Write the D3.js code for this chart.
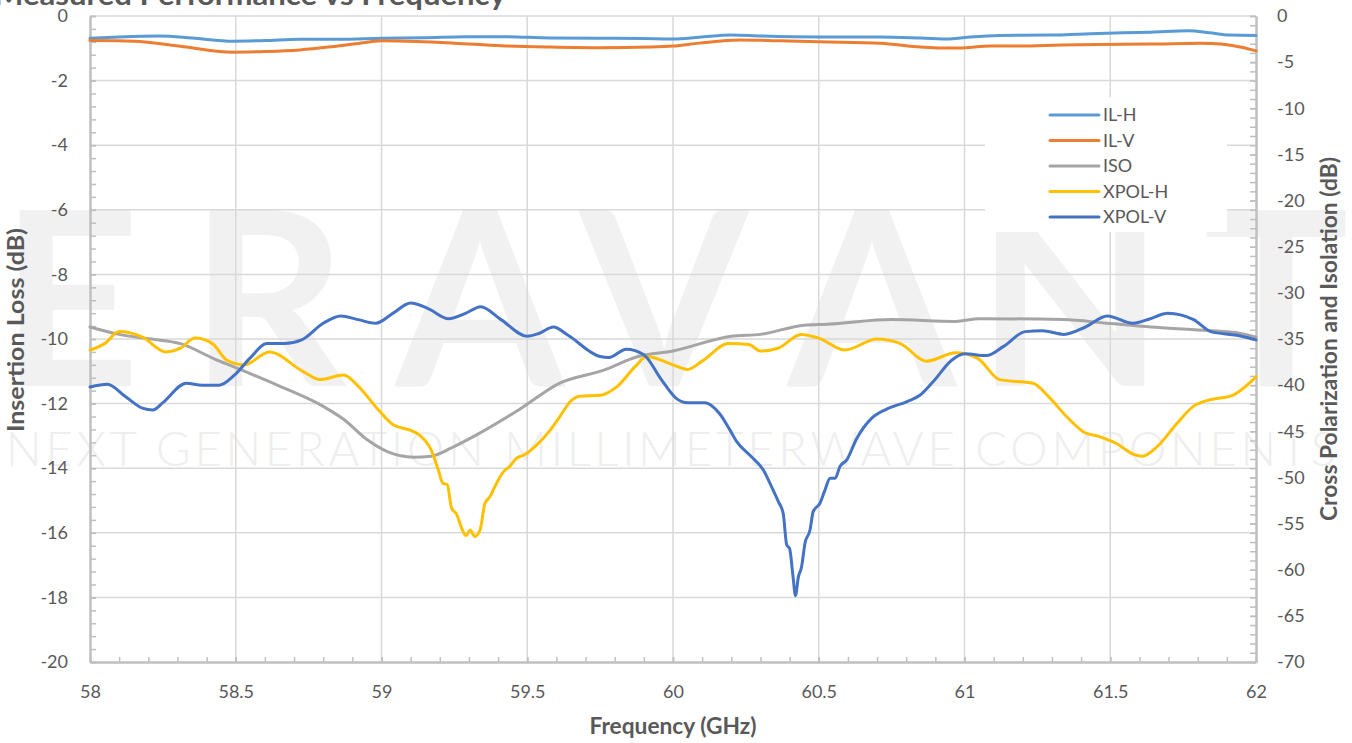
<!DOCTYPE html>
<html>
<head>
<meta charset="utf-8">
<script src="https://cdn.jsdelivr.net/npm/d3@7"></script>
<style>
  html, body { margin: 0; padding: 0; background: #fff; }
  svg { display: block; }
  text { font-family: Lato, "Noto Sans", sans-serif; }
</style>
</head>
<body>
<svg id="chart" width="1352" height="743"></svg>
<script>
// ---------- DATA ----------
const seriesNames = ["IL-H", "IL-V", "ISO", "XPOL-H", "XPOL-V"];
const xTickLabels = [58, 58.5, 59, 59.5, 60, 60.5, 61, 61.5, 62];
const leftTickLabels = [0, -2, -4, -6, -8, -10, -12, -14, -16, -18, -20];
const rightTickLabels = [0, -5, -10, -15, -20, -25, -30, -35, -40, -45, -50, -55, -60, -65, -70];

// IL-H (left axis, dB)
const ilhFreq = [58.00,58.10,58.24,58.35,58.49,58.60,58.72,58.85,59.00,59.15,59.29,59.41,59.58,59.75,59.90,60.00,60.09,60.20,60.30,60.50,60.71,60.85,60.95,61.02,61.12,61.29,61.46,61.64,61.77,61.84,61.91,62.00];
const ilhVals = [-0.69,-0.65,-0.62,-0.68,-0.78,-0.76,-0.72,-0.72,-0.69,-0.67,-0.64,-0.64,-0.68,-0.69,-0.70,-0.71,-0.66,-0.59,-0.62,-0.65,-0.65,-0.68,-0.71,-0.65,-0.60,-0.59,-0.54,-0.50,-0.46,-0.52,-0.59,-0.60];

// IL-V (left axis, dB)
const ilvFreq = [58.00,58.15,58.32,58.49,58.60,58.72,58.83,58.92,59.00,59.12,59.25,59.41,59.58,59.75,59.92,60.00,60.09,60.23,60.37,60.50,60.71,60.85,60.92,60.98,61.09,61.19,61.33,61.46,61.64,61.81,61.88,61.95,62.00];
const ilvVals = [-0.76,-0.78,-0.95,-1.12,-1.10,-1.05,-0.95,-0.85,-0.77,-0.79,-0.84,-0.92,-0.96,-0.98,-0.96,-0.93,-0.84,-0.74,-0.77,-0.80,-0.84,-0.96,-0.99,-0.99,-0.93,-0.93,-0.90,-0.88,-0.87,-0.84,-0.87,-0.97,-1.08];

// ISO (right axis, dB)
const isoFreq = [58.00,58.10,58.21,58.31,58.43,58.50,58.65,58.80,58.87,58.95,59.02,59.11,59.17,59.24,59.32,59.47,59.61,59.76,59.88,60.00,60.20,60.30,60.45,60.53,60.75,60.97,61.05,61.34,61.49,61.64,61.79,61.93,62.00];
const isoVals = [-33.7,-34.5,-35.0,-35.5,-37.2,-38.1,-40.1,-42.3,-43.7,-45.9,-47.2,-47.8,-47.7,-46.8,-45.5,-42.7,-39.8,-38.4,-36.9,-36.3,-34.7,-34.5,-33.5,-33.4,-32.9,-33.1,-32.8,-32.9,-33.3,-33.7,-34.0,-34.3,-34.8];

// XPOL-H (right axis, dB)
const xphFreq = [58.00,58.05,58.10,58.18,58.26,58.31,58.36,58.42,58.47,58.53,58.615,58.73,58.79,58.87,58.92,58.99,59.04,59.10,59.13,59.17,59.195,59.21,59.226,59.24,59.258,59.275,59.29,59.304,59.32,59.338,59.355,59.372,59.395,59.418,59.44,59.464,59.487,59.532,59.578,59.612,59.647,59.68,59.75,59.81,59.87,59.91,60.00,60.05,60.10,60.19,60.26,60.30,60.36,60.44,60.50,60.59,60.70,60.78,60.87,60.97,61.045,61.12,61.235,61.29,61.35,61.41,61.465,61.52,61.58,61.61,61.66,61.73,61.785,61.84,61.92,61.98,62.00];
const xphVals = [-36.2,-35.5,-34.2,-34.8,-36.4,-36.0,-34.9,-35.5,-37.3,-37.8,-36.4,-38.5,-39.4,-38.9,-40.1,-42.7,-44.3,-44.9,-45.4,-47.0,-49.2,-50.6,-50.8,-53.3,-54.0,-55.5,-56.3,-55.7,-56.4,-55.7,-52.8,-52.1,-50.6,-49.4,-48.8,-47.9,-47.6,-46.5,-44.9,-43.4,-41.8,-41.2,-41.1,-40.1,-38.0,-36.9,-37.8,-38.3,-37.4,-35.5,-35.6,-36.3,-36.0,-34.5,-34.9,-36.2,-35.0,-35.5,-37.4,-36.5,-37.1,-39.4,-39.8,-41.3,-43.4,-45.1,-45.6,-46.3,-47.5,-47.7,-46.7,-44.1,-42.3,-41.6,-41.1,-39.7,-39.1];

// XPOL-V (right axis, dB)
const xpvFreq = [58.00,58.06,58.12,58.18,58.215,58.25,58.33,58.385,58.444,58.496,58.548,58.607,58.667,58.726,58.80,58.86,58.92,58.98,59.04,59.10,59.16,59.23,59.29,59.34,59.41,59.50,59.54,59.59,59.64,59.75,59.78,59.84,59.90,59.96,60.01,60.05,60.11,60.16,60.196,60.218,60.264,60.31,60.338,60.361,60.378,60.39,60.40,60.412,60.42,60.43,60.441,60.453,60.47,60.481,60.504,60.521,60.539,60.556,60.573,60.596,60.63,60.681,60.733,60.801,60.847,60.893,60.956,61.00,61.075,61.134,61.208,61.267,61.341,61.415,61.49,61.578,61.637,61.697,61.786,61.845,61.934,62.00];
const xpvVals = [-40.2,-39.9,-41.2,-42.5,-42.7,-41.9,-39.8,-40.0,-40.0,-38.9,-37.1,-35.5,-35.5,-35.1,-33.3,-32.5,-32.9,-33.3,-32.2,-31.1,-31.7,-32.8,-32.2,-31.5,-32.9,-34.7,-34.4,-33.7,-34.6,-36.9,-37.0,-36.1,-36.7,-39.4,-41.4,-41.9,-41.9,-43.1,-44.9,-46.1,-47.6,-49.2,-51.0,-52.6,-53.9,-57.3,-57.7,-60.8,-62.8,-60.8,-59.7,-57.1,-55.7,-53.7,-52.8,-51.4,-50.1,-50.1,-48.8,-48.1,-45.8,-43.6,-42.6,-41.8,-41.1,-39.6,-37.3,-36.6,-36.8,-35.8,-34.2,-34.1,-34.5,-33.7,-32.5,-33.3,-32.8,-32.2,-32.9,-34.2,-34.6,-35.1];

// ---------- CHART ----------
const svg = d3.select("#chart");
const L = 90, R = 1256, T = 16, B = 662;
const textColor = "#595959";
const gridColor = "#d9d9d9";
const axisColor = "#bfbfbf";
const colors = { "IL-H": "#5B9BD5", "IL-V": "#ED7D31", "ISO": "#A5A5A5", "XPOL-H": "#FFC000", "XPOL-V": "#4472C4" };

const x = d3.scaleLinear().domain([58, 62]).range([L, R]);
const yL = d3.scaleLinear().domain([-20, 0]).range([B, T]);
const yR = d3.scaleLinear().domain([-70, 0]).range([B, T]);

// Watermark
const wm = svg.append("g").attr("fill", "#f1f1f1");
const wmLetters = ["E", "R", "A", "V", "A", "N", "T"];
const wmCenters = [70, 268, 480, 664, 872, 1070, 1276];
wm.selectAll("text.big").data(wmLetters).join("text")
  .attr("class", "big")
  .attr("x", (d, i) => wmCenters[i])
  .attr("y", 386)
  .attr("text-anchor", "middle")
  .attr("font-size", 243)
  .attr("font-weight", 700)
  .text(d => d);
svg.append("text")
  .attr("x", 6).attr("y", 466)
  .attr("font-size", 47).attr("font-weight", 300)
  .attr("fill", "#eeeeee")
  .attr("textLength", 1330).attr("lengthAdjust", "spacing")
  .text("NEXT GENERATION MILLIMETERWAVE COMPONENTS");

// Gridlines
const grid = svg.append("g");
grid.selectAll("line.h").data(leftTickLabels.filter(d => d !== -20)).join("line")
  .attr("x1", L).attr("x2", R)
  .attr("y1", d => yL(d)).attr("y2", d => yL(d))
  .attr("stroke", gridColor).attr("stroke-width", 1.5);
grid.selectAll("line.v").data(xTickLabels.filter(d => d !== 58 && d !== 62)).join("line")
  .attr("x1", d => x(d)).attr("x2", d => x(d))
  .attr("y1", T).attr("y2", B)
  .attr("stroke", gridColor).attr("stroke-width", 1.5);

// Legend background (covers grid and watermark)
svg.append("rect").attr("x", 985).attr("y", 97).attr("width", 242).attr("height", 135).attr("fill", "#fff");

// Axes
function styleAxis(g) {
  g.select(".domain").attr("stroke", axisColor).attr("stroke-width", 2);
  g.selectAll(".tick line").attr("stroke", axisColor).attr("stroke-width", 1.5);
  g.selectAll(".tick text").attr("fill", textColor).attr("font-size", 18)
    .attr("font-family", "Lato, 'Noto Sans', sans-serif");
}
const fmt = d => String(d);

const minorX = d3.range(0, 41).map(i => 58 + i * 0.1);
const minorL = d3.range(0, 51).map(i => -i * 0.4);
const minorR = d3.range(0, 71).map(i => -i);

svg.append("g").attr("transform", `translate(0,${B})`)
  .call(d3.axisBottom(x).tickValues(minorX).tickSize(-5).tickSizeOuter(0).tickFormat(""))
  .call(styleAxis);
svg.append("g").attr("transform", `translate(0,${B})`)
  .call(d3.axisBottom(x).tickValues(xTickLabels).tickSize(-5).tickSizeOuter(0).tickPadding(23).tickFormat(fmt))
  .call(styleAxis);

svg.append("g").attr("transform", `translate(${L},0)`)
  .call(d3.axisLeft(yL).tickValues(minorL).tickSize(-6).tickSizeOuter(0).tickFormat(""))
  .call(styleAxis);
svg.append("g").attr("transform", `translate(${L},0)`)
  .call(d3.axisLeft(yL).tickValues(leftTickLabels).tickSize(-6).tickSizeOuter(0).tickPadding(22).tickFormat(fmt))
  .call(styleAxis);

svg.append("g").attr("transform", `translate(${R},0)`)
  .call(d3.axisRight(yR).tickValues(minorR).tickSize(-6).tickSizeOuter(0).tickFormat(""))
  .call(styleAxis);
svg.append("g").attr("transform", `translate(${R},0)`)
  .call(d3.axisRight(yR).tickValues(rightTickLabels).tickSize(-6).tickSizeOuter(0).tickPadding(21).tickFormat(fmt))
  .call(styleAxis);

// Axis titles
svg.append("text").attr("x", 673).attr("y", 734).attr("text-anchor", "middle")
  .attr("font-size", 22).attr("font-weight", 700).attr("fill", textColor)
  .attr("textLength", 167).attr("lengthAdjust", "spacingAndGlyphs")
  .text("Frequency (GHz)");
svg.append("text").attr("transform", "translate(24,330) rotate(-90)").attr("text-anchor", "middle")
  .attr("font-size", 22).attr("font-weight", 700).attr("fill", textColor)
  .attr("textLength", 204).attr("lengthAdjust", "spacingAndGlyphs")
  .text("Insertion Loss (dB)");
svg.append("text").attr("transform", "translate(1337,339) rotate(-90)").attr("text-anchor", "middle")
  .attr("font-size", 22).attr("font-weight", 700).attr("fill", textColor)
  .attr("textLength", 364).attr("lengthAdjust", "spacingAndGlyphs")
  .text("Cross Polarization and Isolation (dB)");

// Title (partially cut off at top)
svg.append("text").attr("x", -6).attr("y", 5)
  .attr("font-size", 28).attr("font-weight", 700).attr("fill", textColor)
  .attr("textLength", 512).attr("lengthAdjust", "spacingAndGlyphs")
  .text("Measured Performance vs Frequency");

// Lines
const series = [
  { name: "IL-H", f: ilhFreq, v: ilhVals, y: yL },
  { name: "IL-V", f: ilvFreq, v: ilvVals, y: yL },
  { name: "ISO", f: isoFreq, v: isoVals, y: yR },
  { name: "XPOL-H", f: xphFreq, v: xphVals, y: yR },
  { name: "XPOL-V", f: xpvFreq, v: xpvVals, y: yR }
];
const plot = svg.append("g");
series.forEach(s => {
  const pts = s.f.map((f, i) => [f, s.v[i]]);
  const line = d3.line().x(d => x(d[0])).y(d => s.y(d[1])).curve(d3.curveMonotoneX);
  plot.append("path").datum(pts)
    .attr("d", line)
    .attr("fill", "none")
    .attr("stroke", colors[s.name])
    .attr("stroke-width", 3)
    .attr("stroke-linejoin", "round")
    .attr("stroke-linecap", "round");
});

// Legend
const legend = svg.append("g");
const legY0 = 115, legStep = 25.5;
seriesNames.forEach((n, i) => {
  const yy = legY0 + i * legStep;
  legend.append("line").attr("x1", 1050).attr("x2", 1099).attr("y1", yy).attr("y2", yy)
    .attr("stroke", colors[n]).attr("stroke-width", 3).attr("stroke-linecap", "round");
  legend.append("text").attr("x", 1103).attr("y", yy).attr("dy", "0.35em")
    .attr("font-size", 18).attr("fill", textColor).text(n);
});
</script>
</body>
</html>
